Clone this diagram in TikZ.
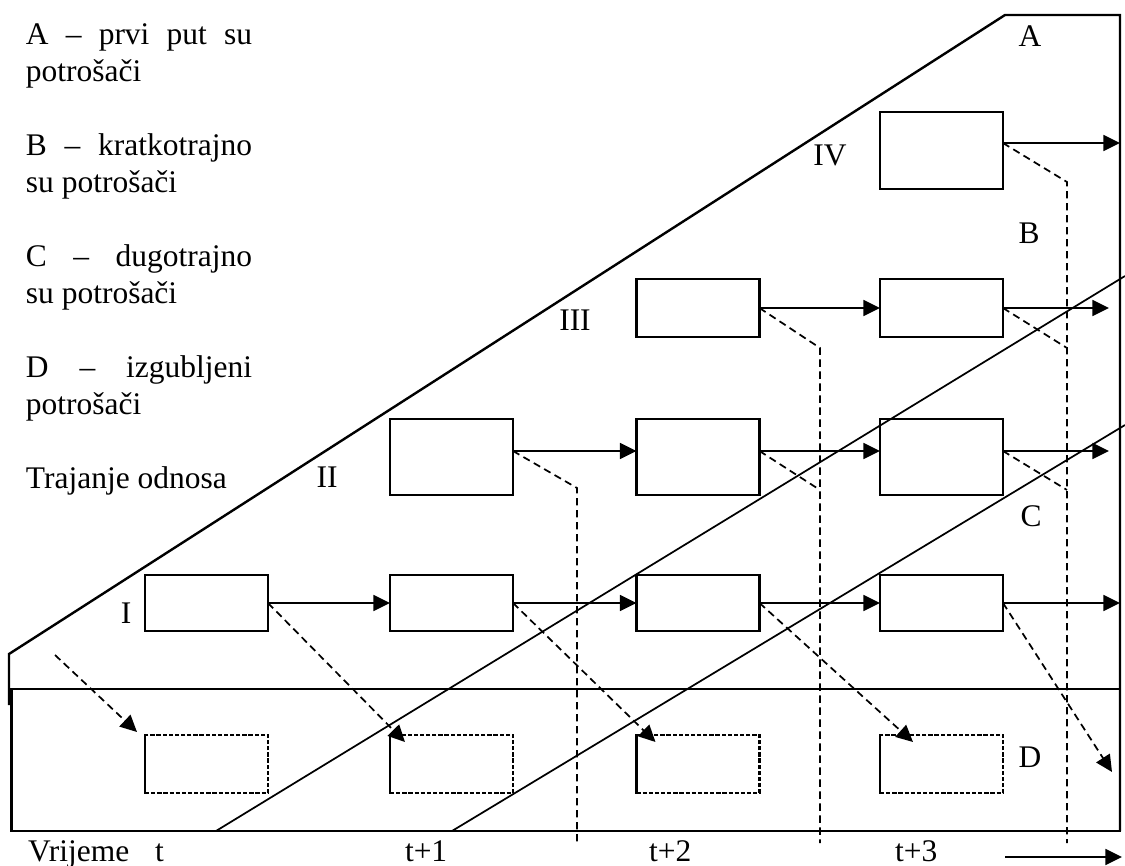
\documentclass[tikz,border=0pt]{standalone}
\usepackage{fontspec}
\setmainfont{Liberation Serif}
\usetikzlibrary{arrows.meta}
\begin{document}
\begin{tikzpicture}[x=0.75pt,y=-0.75pt,
  every node/.style={inner sep=0pt,outer sep=0pt},
  txt/.style={font=\fontsize{23.6pt}{27pt}\selectfont},
  frame/.style={line width=1.8pt},
  diag/.style={line width=1.3pt},
  pbox/.style={draw,line width=2pt,minimum width=92.25pt},
  dbox/.style={draw,line width=2pt,dash pattern=on 3.2pt off 1.4pt,minimum width=92.25pt,minimum height=43.5pt},
  arr/.style={line width=1.3pt,-{Triangle[length=12.5pt,width=12pt]}},
  dl/.style={line width=1.3pt,dash pattern=on 5.5pt off 3.5pt},
  dla/.style={dl,-{Triangle[length=12.5pt,width=12pt]}}
]
\useasboundingbox (0,0) rectangle (1125,866);

% left legend
\node[txt,anchor=base west] (la1) at (26,45) {\makebox[169.5pt][s]{A\hfill–\hfill prvi\hfill put\hfill su}};
\node[txt,anchor=base west] (la2) at (26,82) {potrošači};
\node[txt,anchor=base west] (lb1) at (26,156) {\makebox[169.5pt][s]{B\hfill–\hfill kratkotrajno}};
\node[txt,anchor=base west] (lb2) at (26,193) {su potrošači};
\node[txt,anchor=base west] (lc1) at (26,267) {\makebox[169.5pt][s]{C\hfill–\hfill dugotrajno}};
\node[txt,anchor=base west] (lc2) at (26,304) {su potrošači};
\node[txt,anchor=base west] (ld1) at (26,378) {\makebox[169.5pt][s]{D\hfill–\hfill izgubljeni}};
\node[txt,anchor=base west] (ld2) at (26,415) {potrošači};
\node[txt,anchor=base west] (lt) at (26,488) {Trajanje odnosa};

% frame
\coordinate (p0) at (9,705);
\coordinate (p1) at (9,654);
\coordinate (p2) at (1005,15);
\coordinate (p3) at (1120,15);
\coordinate (p4) at (1120,831);
\draw[frame] (p0) -- (p1) -- (p2) -- (p3) -- (p4);
\coordinate (q0) at (11.5,689);
\coordinate (q1) at (1120,831);
\draw[frame] (q0) rectangle (q1);
\coordinate (g1a) at (216,831);
\coordinate (g1b) at (1125,276);
\coordinate (g2a) at (452,831);
\coordinate (g2b) at (1125,425);
\draw[diag] (g1a) -- (g1b);
\draw[diag] (g2a) -- (g2b);

% boxes
\node[pbox,minimum height=42pt] (r1c0) at (206.5,603) {};
\node[pbox,minimum height=42pt] (r1c1) at (451.5,603) {};
\node[pbox,minimum height=42pt] (r1c2) at (698,603) {};
\node[pbox,minimum height=42pt] (r1c3) at (941.5,603) {};
\node[pbox,minimum height=57pt] (r2c1) at (451.5,457) {};
\node[pbox,minimum height=57pt] (r2c2) at (698,457) {};
\node[pbox,minimum height=57pt] (r2c3) at (941.5,457) {};
\node[pbox,minimum height=43.5pt] (r3c2) at (698,308) {};
\node[pbox,minimum height=43.5pt] (r3c3) at (941.5,308) {};
\node[pbox,minimum height=57.75pt] (r4c3) at (941.5,150.5) {};
\node[dbox] (d0) at (206.5,764) {};
\node[dbox] (d1) at (451.5,764) {};
\node[dbox] (d2) at (698,764) {};
\node[dbox] (d3) at (941.5,764) {};
\foreach \d in {d0,d1,d2,d3}{\draw[line width=2pt] (\d.north west) -- (\d.south west);}

% solid arrows
\coordinate (e1) at (1120,603);
\coordinate (e2) at (1109,451);
\coordinate (e3) at (1109,308);
\coordinate (e4) at (1120,143);
\draw[arr] (r1c0.east) -- (r1c1.west);
\draw[arr] (r1c1.east) -- (r1c2.west);
\draw[arr] (r1c2.east) -- (r1c3.west);
\draw[arr] (r1c3.east) -- (e1);
\draw[arr] ([yshift=4.5pt]r2c1.east) -- ([yshift=4.5pt]r2c2.west);
\draw[arr] ([yshift=4.5pt]r2c2.east) -- ([yshift=4.5pt]r2c3.west);
\draw[arr] ([yshift=4.5pt]r2c3.east) -- (e2);
\draw[arr] (r3c2.east) -- (r3c3.west);
\draw[arr] (r3c3.east) -- (e3);
\draw[arr] ([yshift=5.6pt]r4c3.east) -- (e4);

% dashed connectors
\coordinate (k1) at (577,488);
\coordinate (k2) at (820,348);
\coordinate (k2a) at (820,490);
\coordinate (k3) at (1067,182);
\coordinate (k3b) at (1067,348);
\coordinate (k3a) at (1067,490);
\coordinate (b1) at (577,843);
\coordinate (b2) at (820,843);
\coordinate (b3) at (1067,843);
\draw[dl] ([yshift=4.5pt]r2c1.east) -- (k1) -- (b1);
\draw[dl] (r3c2.east) -- (k2) -- (b2);
\draw[dl] ([yshift=4.5pt]r2c2.east) -- (k2a);
\draw[dl] ([yshift=5.6pt]r4c3.east) -- (k3) -- (b3);
\draw[dl] (r3c3.east) -- (k3b);
\draw[dl] ([yshift=4.5pt]r2c3.east) -- (k3a);

\coordinate (s0) at (55,655);
\coordinate (f3) at (1112,772);
\draw[dla] (s0) -- ([shift={(-8,-3)}]d0.north west);
\draw[dla] (r1c0.east) -- ([shift={(15,7)}]d1.north west);
\draw[dla] (r1c1.east) -- ([shift={(19,7)}]d2.north west);
\draw[dla] (r1c2.east) -- ([shift={(33,7)}]d3.north west);
\draw[dla] (r1c3.east) -- (f3);

% labels
\node[txt] (lA) at (1030,36) {A};
\node[txt] (lB) at (1029,233) {B};
\node[txt] (lC) at (1031,516) {C};
\node[txt] (lD) at (1030,757) {D};
\node[txt] (lIV) at (830,155) {IV};
\node[txt] (lIII) at (575,320) {III};
\node[txt] (lII) at (327,477) {II};
\node[txt] (lI) at (126,613) {I};

% time axis
\node[txt,anchor=base west] (tv) at (28,861) {Vrijeme};
\node[txt,anchor=base west] (tt) at (155,861) {t};
\node[txt,anchor=base west] (tt1) at (405,861) {t+1};
\node[txt,anchor=base west] (tt2) at (649,861) {t+2};
\node[txt,anchor=base west] (tt3) at (895,861) {t+3};
\coordinate (ta) at (1005,857);
\coordinate (tb) at (1122,857);
\draw[arr] (ta) -- (tb);
\end{tikzpicture}
\end{document}
